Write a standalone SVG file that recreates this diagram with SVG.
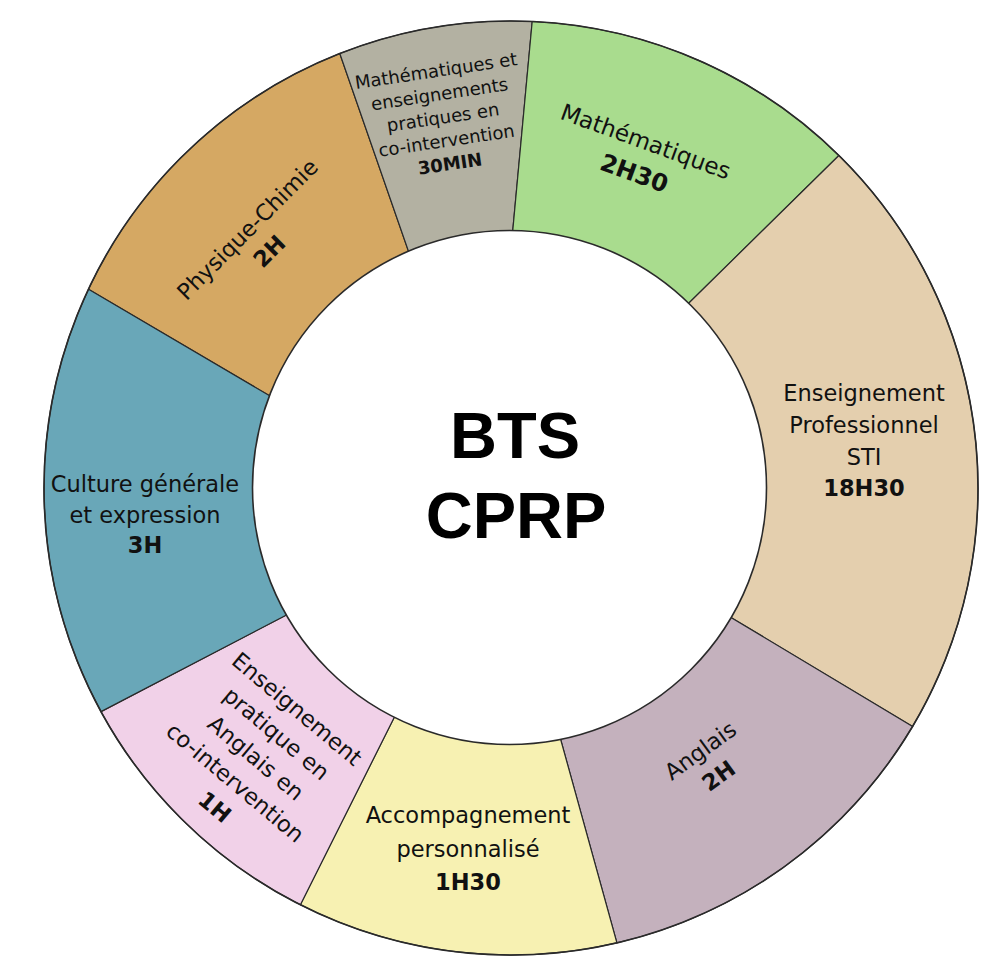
<svg xmlns="http://www.w3.org/2000/svg" width="1007" height="971" viewBox="0 0 1007 971">
<style>
.seg{stroke:#2a2a2a;stroke-width:1.2;stroke-linejoin:round}
.lbl{font-family:"DejaVu Sans",Verdana,sans-serif;font-size:22.5px;fill:#111;text-anchor:middle}
.sm{font-size:18px}
.b{font-weight:bold}
.title{font-family:"Liberation Sans",Arial,sans-serif;font-weight:bold;font-size:65px;fill:#000;text-anchor:middle}
.ring{fill:none;stroke:#2a2a2a;stroke-width:1.6}
.hole{fill:#fff;stroke:#2a2a2a;stroke-width:1.6}
</style>
<rect width="1007" height="971" fill="#fff"/>
<g id="physique-chimie">
<path class="seg" fill="#D5A863" d="M 88.5 289.2 A 467 467 0 0 1 339.8 53.5 L 412.4 262.5 A 246 246 0 0 0 280.3 402.1 Z"/>
<g transform="translate(253,235) rotate(-45)">
<text class="lbl" x="0" y="0">Physique-Chimie</text>
<text class="lbl b" x="0" y="31">2H</text>
</g>
</g>
<g id="maths-co-intervention">
<path class="seg" fill="#B3B1A2" d="M 339.8 53.5 A 467 467 0 0 1 532.2 21.5 L 511.7 241.9 A 246 246 0 0 0 412.4 262.5 Z"/>
<g transform="translate(437,77) rotate(-8.5)">
<text class="lbl sm" x="0" y="0">Mathématiques et</text>
<text class="lbl sm" x="0" y="23.5">enseignements</text>
<text class="lbl sm" x="0" y="47">pratiques en</text>
<text class="lbl sm" x="0" y="70.5">co-intervention</text>
<text class="lbl sm b" x="0" y="94">30MIN</text>
</g>
</g>
<g id="mathematiques">
<path class="seg" fill="#A9DC8E" d="M 532.2 21.5 A 467 467 0 0 1 838.9 155.5 L 681.3 310.5 A 246 246 0 0 0 511.7 241.9 Z"/>
<g transform="translate(643,149) rotate(20)">
<text class="lbl" x="0" y="0" style="font-size:23px">Mathématiques</text>
<text class="lbl b" x="0" y="34" style="font-size:24px">2H30</text>
</g>
</g>
<g id="enseignement-pro">
<path class="seg" fill="#E4CFAE" d="M 838.9 155.5 A 467 467 0 0 1 912.6 726.4 L 723.0 612.7 A 246 246 0 0 0 681.3 310.5 Z"/>
<text class="lbl" x="864" y="401">Enseignement</text>
<text class="lbl" x="864" y="433">Professionnel</text>
<text class="lbl" x="864" y="465">STI</text>
<text class="lbl b" x="864" y="496">18H30</text>
</g>
<g id="anglais">
<path class="seg" fill="#C4B1BD" d="M 912.6 726.4 A 467 467 0 0 1 616.9 942.9 L 557.9 729.5 A 246 246 0 0 0 723.0 612.7 Z"/>
<g transform="translate(705,757) rotate(-36)">
<text class="lbl" x="0" y="0">Anglais</text>
<text class="lbl b" x="0" y="31">2H</text>
</g>
</g>
<g id="accompagnement">
<path class="seg" fill="#F7F1B2" d="M 616.9 942.9 A 467 467 0 0 1 300.4 904.8 L 399.3 707.2 A 246 246 0 0 0 557.9 729.5 Z"/>
<text class="lbl" x="468" y="823">Accompagnement</text>
<text class="lbl" x="468" y="857">personnalisé</text>
<text class="lbl b" x="468" y="890">1H30</text>
</g>
<g id="anglais-co-intervention">
<path class="seg" fill="#F1D1E8" d="M 300.4 904.8 A 467 467 0 0 1 101.0 711.6 L 297.0 609.5 A 246 246 0 0 0 399.3 707.2 Z"/>
<g transform="translate(292,715) rotate(40)">
<text class="lbl" x="0" y="0">Enseignement</text>
<text class="lbl" x="0" y="32">pratique en</text>
<text class="lbl" x="0" y="64">Anglais en</text>
<text class="lbl" x="0" y="96">co-intervention</text>
<text class="lbl b" x="0" y="128">1H</text>
</g>
</g>
<g id="culture-generale">
<path class="seg" fill="#69A7B8" d="M 101.0 711.6 A 467 467 0 0 1 88.5 289.2 L 280.3 402.1 A 246 246 0 0 0 297.0 609.5 Z"/>
<text class="lbl" x="145" y="492">Culture générale</text>
<text class="lbl" x="145" y="523">et expression</text>
<text class="lbl b" x="145" y="553">3H</text>
</g>
<g id="ring-outline">
<circle class="ring" cx="511" cy="488" r="467"/>
<circle class="hole" cx="509.5" cy="487.5" r="257"/>
</g>
<g id="centre">
<text class="title" x="515" y="458">BTS</text>
<text class="title" x="516" y="538">CPRP</text>
</g>
</svg>
